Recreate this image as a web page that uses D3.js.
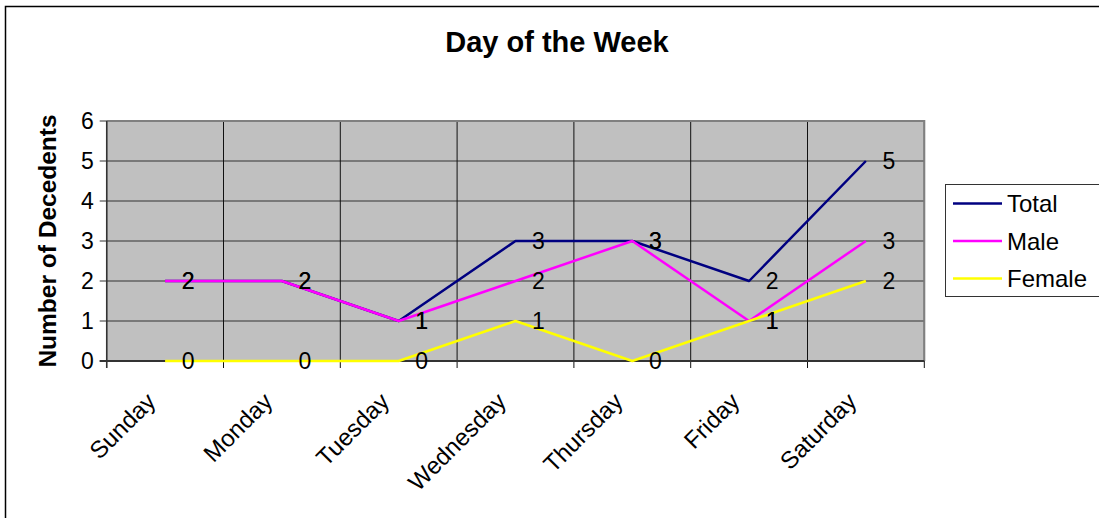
<!DOCTYPE html>
<html>
<head>
<meta charset="utf-8">
<script src="https://cdn.jsdelivr.net/npm/d3@7"></script>
<style>
  body { margin: 0; background: #fff; }
  svg { display: block; font-family: Arial, "Liberation Sans", sans-serif; }
</style>
</head>
<body>
<div id="chart"></div>
<script>
// data
const days = ["Sunday", "Monday", "Tuesday", "Wednesday", "Thursday", "Friday", "Saturday"];
const seriesNames = ["Total", "Male", "Female"];
const totalVals = [2, 2, 1, 3, 3, 2, 5];
const maleVals = [2, 2, 1, 2, 3, 1, 3];
const femaleVals = [0, 0, 0, 1, 0, 1, 2];
const yTicks = [0, 1, 2, 3, 4, 5, 6];

const colors = { Total: "#000080", Male: "#ff00ff", Female: "#ffff00" };
const series = [
  { name: "Total", values: totalVals },
  { name: "Male", values: maleVals },
  { name: "Female", values: femaleVals }
];

const width = 1099, height = 518;
const plot = { left: 106.7, right: 924.3, top: 121, bottom: 361 };

const svg = d3.select("#chart").append("svg")
  .attr("width", width).attr("height", height);

// outer chart border
svg.append("rect")
  .attr("x", 5.5).attr("y", 6.5)
  .attr("width", width).attr("height", height)
  .attr("fill", "#fff").attr("stroke", "#000").attr("stroke-width", 1.5);

const x = d3.scalePoint().domain(days).range([plot.left, plot.right]).padding(0.5);
const xBand = d3.scaleBand().domain(days).range([plot.left, plot.right]);
const y = d3.scaleLinear().domain([0, 6]).range([plot.bottom, plot.top]);

// plot area
svg.append("rect")
  .attr("x", plot.left).attr("y", plot.top)
  .attr("width", plot.right - plot.left).attr("height", plot.bottom - plot.top)
  .attr("fill", "#c0c0c0");

// horizontal gridlines + left ticks
svg.append("g")
  .selectAll("line")
  .data(yTicks)
  .join("line")
  .attr("x1", plot.left - 7).attr("x2", plot.right)
  .attr("y1", d => y(d)).attr("y2", d => y(d))
  .attr("stroke", "#333").attr("stroke-width", 1);

// vertical gridlines at category boundaries + bottom ticks
const bounds = days.map(d => xBand(d)).concat([plot.right]);
svg.append("g")
  .selectAll("line")
  .data(bounds)
  .join("line")
  .attr("x1", d => d).attr("x2", d => d)
  .attr("y1", plot.top).attr("y2", plot.bottom + 7)
  .attr("stroke", "#111").attr("stroke-width", 1);

// plot border (top/right grey)
svg.append("path")
  .attr("d", `M${plot.left},${plot.top}H${plot.right}V${plot.bottom}`)
  .attr("fill", "none").attr("stroke", "#808080").attr("stroke-width", 2);

// axes lines
svg.append("line")
  .attr("x1", plot.left).attr("x2", plot.left)
  .attr("y1", plot.top).attr("y2", plot.bottom + 7)
  .attr("stroke", "#333").attr("stroke-width", 1.5);
svg.append("line")
  .attr("x1", plot.left - 7).attr("x2", plot.right)
  .attr("y1", plot.bottom).attr("y2", plot.bottom)
  .attr("stroke", "#333").attr("stroke-width", 2);

// y tick labels
svg.append("g")
  .selectAll("text")
  .data(yTicks)
  .join("text")
  .attr("x", plot.left - 13).attr("y", d => y(d))
  .attr("text-anchor", "end").attr("dominant-baseline", "central")
  .style("font-size", "23px")
  .text(d => d);

// x tick labels, rotated
svg.append("g")
  .selectAll("text")
  .data(days)
  .join("text")
  .attr("transform", d => `translate(${x(d) - 8},${plot.bottom + 42}) rotate(-45)`)
  .attr("text-anchor", "end")
  .style("font-size", "24px")
  .text(d => d);

// lines
const line = d3.line().x((v, i) => x(days[i])).y(v => y(v));
svg.append("g")
  .selectAll("path")
  .data(series)
  .join("path")
  .attr("d", s => line(s.values))
  .attr("fill", "none")
  .attr("stroke", s => colors[s.name])
  .attr("stroke-width", 2.5)
  .attr("stroke-linejoin", "round");

// data labels
series.forEach(s => {
  svg.append("g")
    .selectAll("text")
    .data(s.values)
    .join("text")
    .attr("x", (v, i) => x(days[i]) + 23)
    .attr("y", v => y(v))
    .attr("text-anchor", "middle").attr("dominant-baseline", "central")
    .style("font-size", "23px")
    .text(v => v);
});

// title
svg.append("text")
  .attr("x", 557).attr("y", 52)
  .attr("text-anchor", "middle")
  .style("font-size", "29px").style("font-weight", "bold")
  .text("Day of the Week");

// y axis title
svg.append("text")
  .attr("transform", `translate(47,${(plot.top + plot.bottom) / 2}) rotate(-90)`)
  .attr("text-anchor", "middle").attr("dominant-baseline", "central")
  .style("font-size", "24.5px").style("font-weight", "bold")
  .text("Number of Decedents");

// legend
const legend = svg.append("g").attr("transform", "translate(945,184)");
legend.append("rect")
  .attr("x", 0.5).attr("y", 0.5)
  .attr("width", 200).attr("height", 112)
  .attr("fill", "#fff").attr("stroke", "#333").attr("stroke-width", 1);
const items = legend.selectAll("g.item")
  .data(seriesNames)
  .join("g")
  .attr("class", "item")
  .attr("transform", (d, i) => `translate(0,${19.5 + i * 37.5})`);
items.append("line")
  .attr("x1", 8).attr("x2", 57)
  .attr("stroke", d => colors[d]).attr("stroke-width", 2.5);
items.append("text")
  .attr("x", 62).attr("dominant-baseline", "central")
  .style("font-size", "24px")
  .text(d => d);
</script>
</body>
</html>
